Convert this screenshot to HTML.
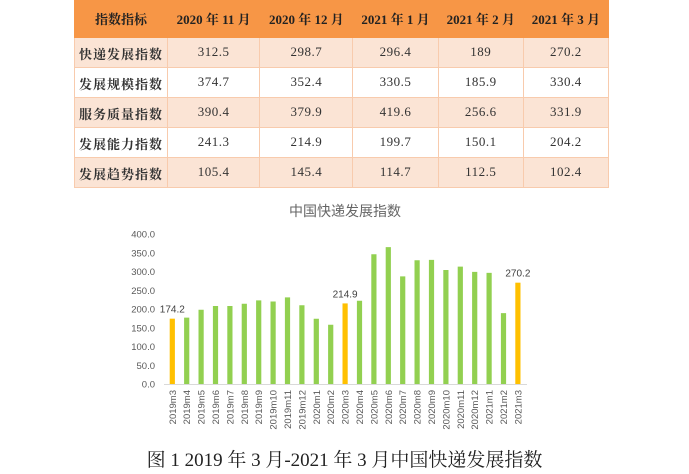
<!DOCTYPE html>
<html><head><meta charset="utf-8"><style>
body{margin:0;width:689px;height:474px;background:#fff;position:relative;overflow:hidden;font-family:"Liberation Serif","Noto Serif CJK SC",serif}
table{position:absolute;left:74px;top:0;width:535px;border-collapse:collapse;font-size:13px;color:#333}
td{border:1px solid #f8cbad;text-align:center;height:30px;padding:0;vertical-align:top;padding-top:6px;box-sizing:border-box;letter-spacing:0.5px}
tr.h td{background:#f79646;font-weight:bold;color:#222;height:37px;padding-top:8px;border-color:#f79646;letter-spacing:0}
tr.p td{background:#fbe4d5}
td.f{font-weight:bold;letter-spacing:1px}
.cap{position:absolute;left:0;width:689px;top:445px;text-align:center;font-size:19px;color:#222}
</style></head><body>
<table>
<tr class="h"><td style="width:93px">指数指标</td><td>2020 年 11 月</td><td>2020 年 12 月</td><td>2021 年 1 月</td><td>2021 年 2 月</td><td>2021 年 3 月</td></tr>
<tr class="p"><td class="f">快递发展指数</td><td>312.5</td><td>298.7</td><td>296.4</td><td>189</td><td>270.2</td></tr>
<tr><td class="f">发展规模指数</td><td>374.7</td><td>352.4</td><td>330.5</td><td>185.9</td><td>330.4</td></tr>
<tr class="p"><td class="f">服务质量指数</td><td>390.4</td><td>379.9</td><td>419.6</td><td>256.6</td><td>331.9</td></tr>
<tr><td class="f">发展能力指数</td><td>241.3</td><td>214.9</td><td>199.7</td><td>150.1</td><td>204.2</td></tr>
<tr class="p"><td class="f">发展趋势指数</td><td>105.4</td><td>145.4</td><td>114.7</td><td>112.5</td><td>102.4</td></tr>
</table>
<svg id="chart" width="689" height="474" style="position:absolute;left:0;top:0" font-family="Liberation Sans, Noto Sans CJK SC, sans-serif">
<text x="345" y="216" text-anchor="middle" font-size="14" fill="#666">中国快递发展指数</text>
</svg>
<div class="cap">图 1 2019 年 3 月-2021 年 3 月中国快递发展指数</div>
<script>
const categories=["2019m3","2019m4","2019m5","2019m6","2019m7","2019m8","2019m9","2019m10","2019m11","2019m12","2020m1","2020m2","2020m3","2020m4","2020m5","2020m6","2020m7","2020m8","2020m9","2020m10","2020m11","2020m12","2021m1","2021m2","2021m3"];
const values=[174.2,177,198,208,208,214,223,220,231,210,174,158,214.9,222,346,365,287,330,331,304,313,299,296.4,189,270.2];
const highlighted=["2019m3","2020m3","2021m3"];
const yTicks=[0,50,100,150,200,250,300,350,400];
const svg=document.getElementById('chart');
const NS='http://www.w3.org/2000/svg';
const y0=384,yTop=234,yMax=400;
const y=v=>y0-(v/yMax)*(y0-yTop);
const x=i=>172.3+i*14.4;
function mk(t,a){const e=document.createElementNS(NS,t);for(const k in a)e.setAttribute(k,a[k]);svg.appendChild(e);return e;}
yTicks.forEach(t=>{
 const e=mk('text',{x:155,y:y(t)+3.5,'text-anchor':'end','font-size':9.5,fill:'#595959'});
 
 
 e.textContent=t.toFixed(1);
});
const ax=mk('line',{x1:164,x2:527,y1:y0+0.5,y2:y0+0.5,stroke:'#d9d9d9'});


categories.forEach((c,i)=>{
 const hi=highlighted.includes(c);
 const b=mk('rect',{x:x(i)-2.6,y:y(values[i]),width:5.2,height:y0-y(values[i]),fill:hi?'#ffc000':'#92d050'});
 
 
 const l=mk('text',{transform:`translate(${x(i)+3.5},390) rotate(-90)`,'text-anchor':'end','font-size':9.5,fill:'#595959'});
 
 
 l.textContent=c;
 if(hi){
  const v=mk('text',{x:x(i),y:y(values[i])-6,'text-anchor':'middle','font-size':10,fill:'#404040'});
  
  
  v.textContent=values[i].toFixed(1);
 }
});
</script>
</body></html>
